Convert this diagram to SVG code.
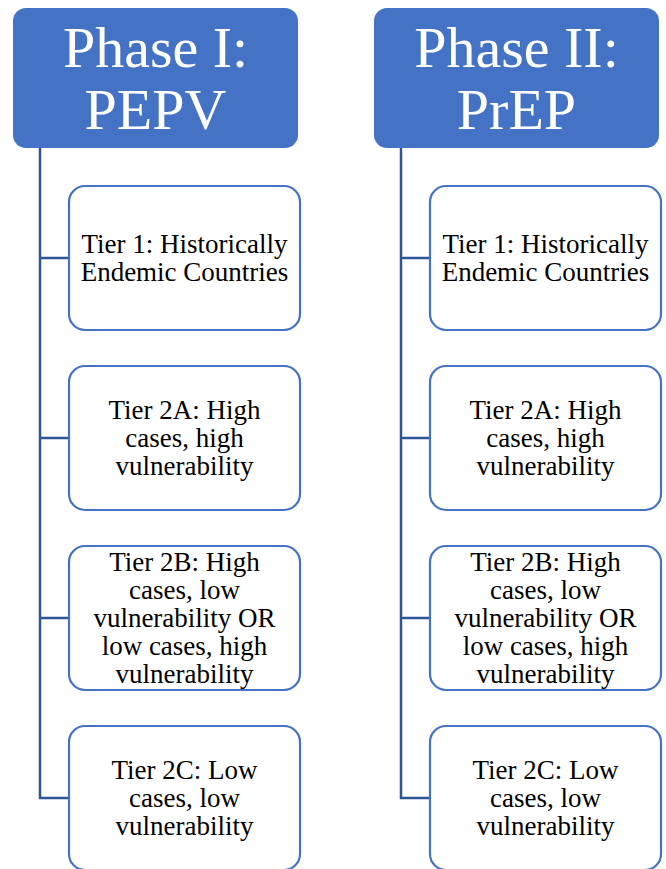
<svg xmlns="http://www.w3.org/2000/svg" width="666" height="869" viewBox="0 0 666 869">
<style>
.hdr{fill:#4472C4;}
.hdrt{font-family:"Liberation Serif","Times New Roman",serif;font-size:58px;fill:#ffffff;text-anchor:middle;}
.box{fill:#ffffff;stroke:#4472C4;stroke-width:2.2;}
.boxt{font-family:"Liberation Serif","Times New Roman",serif;font-size:27px;fill:#000000;text-anchor:middle;}
.con{fill:none;stroke:#2F5597;stroke-width:2.5;}
</style>
<rect width="666" height="869" fill="#ffffff"/>
<g id="connectors">
<path class="con" d="M40,148 V798 H69 M40,258 H69 M40,438 H69 M40,618 H69"/>
<path class="con" d="M401,148 V798 H430 M401,258 H430 M401,438 H430 M401,618 H430"/>
</g>
<g id="phase1">
<rect class="hdr" x="13" y="8" width="285" height="140" rx="13"/>
<text class="hdrt" x="155.5" y="67">Phase I:</text>
<text class="hdrt" x="155.5" y="129">PEPV</text>
</g>
<g id="phase2">
<rect class="hdr" x="374" y="8" width="285" height="140" rx="13"/>
<text class="hdrt" x="516.5" y="67">Phase II:</text>
<text class="hdrt" x="516.5" y="129">PrEP</text>
</g>
<g id="p1-tier1">
<rect class="box" x="69" y="186" width="231" height="144" rx="16"/>
<text class="boxt" x="184.5" y="253">Tier 1: Historically</text>
<text class="boxt" x="184.5" y="281">Endemic Countries</text>
</g>
<g id="p1-tier2a">
<rect class="box" x="69" y="366" width="231" height="144" rx="16"/>
<text class="boxt" x="184.5" y="419">Tier 2A: High</text>
<text class="boxt" x="184.5" y="447">cases, high</text>
<text class="boxt" x="184.5" y="475">vulnerability</text>
</g>
<g id="p1-tier2b">
<rect class="box" x="69" y="546" width="231" height="144" rx="16"/>
<text class="boxt" x="184.5" y="571">Tier 2B: High</text>
<text class="boxt" x="184.5" y="599">cases, low</text>
<text class="boxt" x="184.5" y="627">vulnerability OR</text>
<text class="boxt" x="184.5" y="655">low cases, high</text>
<text class="boxt" x="184.5" y="683">vulnerability</text>
</g>
<g id="p1-tier2c">
<rect class="box" x="69" y="726" width="231" height="144" rx="16"/>
<text class="boxt" x="184.5" y="779">Tier 2C: Low</text>
<text class="boxt" x="184.5" y="807">cases, low</text>
<text class="boxt" x="184.5" y="835">vulnerability</text>
</g>
<g id="p2-tier1">
<rect class="box" x="430" y="186" width="231" height="144" rx="16"/>
<text class="boxt" x="545.5" y="253">Tier 1: Historically</text>
<text class="boxt" x="545.5" y="281">Endemic Countries</text>
</g>
<g id="p2-tier2a">
<rect class="box" x="430" y="366" width="231" height="144" rx="16"/>
<text class="boxt" x="545.5" y="419">Tier 2A: High</text>
<text class="boxt" x="545.5" y="447">cases, high</text>
<text class="boxt" x="545.5" y="475">vulnerability</text>
</g>
<g id="p2-tier2b">
<rect class="box" x="430" y="546" width="231" height="144" rx="16"/>
<text class="boxt" x="545.5" y="571">Tier 2B: High</text>
<text class="boxt" x="545.5" y="599">cases, low</text>
<text class="boxt" x="545.5" y="627">vulnerability OR</text>
<text class="boxt" x="545.5" y="655">low cases, high</text>
<text class="boxt" x="545.5" y="683">vulnerability</text>
</g>
<g id="p2-tier2c">
<rect class="box" x="430" y="726" width="231" height="144" rx="16"/>
<text class="boxt" x="545.5" y="779">Tier 2C: Low</text>
<text class="boxt" x="545.5" y="807">cases, low</text>
<text class="boxt" x="545.5" y="835">vulnerability</text>
</g>
</svg>
